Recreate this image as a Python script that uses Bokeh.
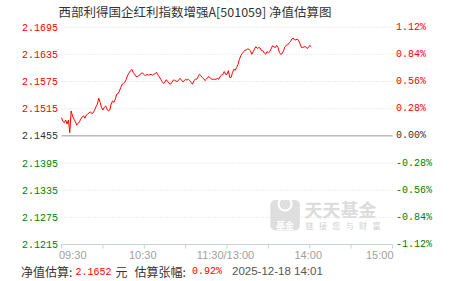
from bokeh.plotting import figure
from bokeh.models import Range1d
from bokeh.core.properties import value
from bokeh.embed import file_html
from bokeh.resources import INLINE

# ---------------- data ----------------
TITLE = "西部利得国企红利指数增强A[501059] 净值估算图"
BASE_NAV = 2.1455
NAV_TICKS = [2.1695, 2.1635, 2.1575, 2.1515, 2.1455, 2.1395, 2.1335, 2.1275, 2.1215]
NAV_LABELS = ["2.1695", "2.1635", "2.1575", "2.1515", "2.1455", "2.1395", "2.1335", "2.1275", "2.1215"]
PCT_LABELS = ["1.12%", "0.84%", "0.56%", "0.28%", "0.00%", "-0.28%", "-0.56%", "-0.84%", "-1.12%"]
TIME_TICKS = ["09:30", "10:00", "10:30", "11:00", "11:30", "13:30", "14:00", "14:30", "15:00"]
TIME_LABELS = ["09:30", "10:30", "11:30/13:00", "14:00", "15:00"]
TIME_LABEL_AT = ["09:30", "10:30", "11:30", "14:00", "15:00"]

# estimated NAV, one point per minute, 09:30 .. 11:30
MORNING_NAV = [
    2.1495, 2.1487, 2.1484, 2.1490, 2.1481, 2.1490, 2.1462, 2.1510, 2.1499, 2.1492,
    2.1487, 2.1479, 2.1482, 2.1486, 2.1492, 2.1497, 2.1499, 2.1494, 2.1501, 2.1503,
    2.1506, 2.1508, 2.1504, 2.1506, 2.1512, 2.1519, 2.1525, 2.1538, 2.1529, 2.1518,
    2.1512, 2.1518, 2.1521, 2.1514, 2.1510, 2.1512, 2.1525, 2.1532, 2.1529, 2.1536,
    2.1547, 2.1548, 2.1554, 2.1562, 2.1569, 2.1571, 2.1574, 2.1580, 2.1589, 2.1594,
    2.1599, 2.1602, 2.1595, 2.1591, 2.1586, 2.1586, 2.1588, 2.1590, 2.1594, 2.1593,
    2.1590, 2.1588, 2.1591, 2.1589, 2.1590, 2.1591, 2.1589, 2.1591, 2.1593, 2.1595,
    2.1589, 2.1585, 2.1580, 2.1575, 2.1571, 2.1574, 2.1579, 2.1575, 2.1571, 2.1569,
    2.1573, 2.1578, 2.1578, 2.1576, 2.1575, 2.1579, 2.1582, 2.1578, 2.1574, 2.1577,
    2.1580, 2.1578, 2.1580, 2.1577, 2.1573, 2.1569, 2.1577, 2.1580, 2.1580, 2.1585,
    2.1591, 2.1588, 2.1584, 2.1582, 2.1577, 2.1580, 2.1584, 2.1586, 2.1582, 2.1580,
    2.1580, 2.1580, 2.1580, 2.1582, 2.1580, 2.1586, 2.1589, 2.1591, 2.1597, 2.1591,
    2.1591,
]
# estimated NAV, one point per minute, 13:01 .. 14:01
AFTERNOON_NAV = [
    2.1599, 2.1584, 2.1584, 2.1595, 2.1602, 2.1600, 2.1606, 2.1613, 2.1624, 2.1632,
    2.1637, 2.1641, 2.1644, 2.1645, 2.1647, 2.1646, 2.1643, 2.1635, 2.1641, 2.1647,
    2.1652, 2.1648, 2.1650, 2.1649, 2.1643, 2.1643, 2.1638, 2.1635, 2.1641, 2.1639,
    2.1641, 2.1647, 2.1654, 2.1652, 2.1650, 2.1655, 2.1650, 2.1639, 2.1635, 2.1637,
    2.1643, 2.1652, 2.1655, 2.1656, 2.1660, 2.1663, 2.1669, 2.1671, 2.1667, 2.1667,
    2.1669, 2.1665, 2.1658, 2.1650, 2.1650, 2.1652, 2.1652, 2.1648, 2.1650, 2.1655,
    2.1652,
]
LAST_NAV = "2.1652"
LAST_PCT = "0.92%"
STAMP = "2025-12-18 14:01"


def hhmm(total):
    return "%02d:%02d" % (total // 60, total % 60)


times = [hhmm(9 * 60 + 30 + i) for i in range(len(MORNING_NAV))] + \
        [hhmm(13 * 60 + 1 + i) for i in range(len(AFTERNOON_NAV))]
nav = MORNING_NAV + AFTERNOON_NAV


def trade_minute(t):
    h, m = map(int, t.split(":"))
    mins = h * 60 + m
    if mins <= 11 * 60 + 30:
        return mins - (9 * 60 + 30)
    return 120 + mins - 13 * 60


xs = [trade_minute(t) for t in times]

# ---------------- layout (pixels) ----------------
W, H = 451, 281
PL, PR, PT, PB = 61.0, 392.0, 26.7, 244.0
ppm = (PR - PL) / 240.0
ppu = (PB - PT) / (NAV_TICKS[0] - NAV_TICKS[-1])

x_range = Range1d(-PL / ppm, 240 + (W - PR) / ppm)
y_range = Range1d(NAV_TICKS[-1] - (H - PB) / ppu, NAV_TICKS[0] + PT / ppu)

p = figure(width=W, height=H, x_range=x_range, y_range=y_range,
           x_axis_location=None, y_axis_location=None,
           toolbar_location=None, output_backend="svg", min_border=0)
p.outline_line_color = None
p.grid.visible = False
p.background_fill_color = "white"
p.border_fill_color = "white"
p.extra_x_ranges = {"px": Range1d(0, W)}
p.extra_y_ranges = {"px": Range1d(H, 0)}

# grid lines
grid_vals = [v for v in NAV_TICKS if v != BASE_NAV and v != NAV_TICKS[-1]]
p.segment(x0=0, x1=240, y0=grid_vals, y1=grid_vals, line_color="#d9d9d9",
          line_width=1, line_dash="1 2")
# zero (base) line
p.segment(x0=[0], x1=[240], y0=[BASE_NAV], y1=[BASE_NAV], line_color="#999999", line_width=1)
# x axis line + ticks
p.segment(x0=[0], x1=[240], y0=[NAV_TICKS[-1]], y1=[NAV_TICKS[-1]], line_color="#c5d2df", line_width=1)
tick_x = [trade_minute(t) for t in TIME_TICKS]
p.segment(x0=tick_x, x1=tick_x, y0=[PB] * len(tick_x), y1=[PB + 4] * len(tick_x),
          y_range_name="px", line_color="#c5d2df", line_width=1)

# watermark
p.rect(x=[284.6], y=[214.8], width=[29.5], height=[30.5], x_range_name="px", y_range_name="px",
       fill_color="#dedede", line_color=None, border_radius=5)
p.scatter(x=[284.6], y=[203.5], size=13, marker="circle", x_range_name="px", y_range_name="px",
          fill_color=None, line_color="white", line_width=2)
p.text(x=[284.6], y=[224.5], text=["基金"], x_range_name="px", y_range_name="px",
       text_font=value("Noto Sans CJK SC"), text_font_size="9px", text_font_style="bold",
       text_color="white", text_align="center", text_baseline="middle")
p.text(x=[304], y=[208.5], text=["天天基金"], x_range_name="px", y_range_name="px",
       text_font=value("Noto Sans CJK SC"), text_font_size="18px", text_font_style="bold",
       text_color="#dcdcdc", text_align="left", text_baseline="middle")
slogan = list("链接您与财富")
p.text(x=[309 + 13.4 * i for i in range(len(slogan))], y=[224.5] * len(slogan), text=slogan,
       x_range_name="px", y_range_name="px",
       text_font=value("Noto Sans CJK SC"), text_font_size="8px",
       text_color="#d0d0d0", text_align="center", text_baseline="middle")

# NAV line
p.line(x=xs, y=nav, line_color="#ff0000", line_width=1)

# y tick labels
def tick_color(v):
    if abs(v - BASE_NAV) < 1e-9:
        return "#333333"
    return "#ff0000" if v > BASE_NAV else "#008000"


colors = [tick_color(v) for v in NAV_TICKS]
p.text(x=[57.5] * len(NAV_TICKS), y=NAV_TICKS, text=NAV_LABELS, x_range_name="px",
       text_font=value("Liberation Mono"), text_font_size="10px", text_color=colors,
       text_align="right", text_baseline="middle")
p.text(x=[395.5] * len(NAV_TICKS), y=NAV_TICKS, text=PCT_LABELS, x_range_name="px",
       text_font=value("Liberation Mono"), text_font_size="10px", text_color=colors,
       text_align="left", text_baseline="middle")

# x tick labels
lab_x = [trade_minute(t) for t in TIME_LABEL_AT]
common = dict(y_range_name="px", text_font=value("Liberation Sans"), text_font_size="11px",
              text_color="#a0a0a0", text_baseline="middle")
p.text(x=lab_x[:1], y=[254.8], text=TIME_LABELS[:1], text_align="left", x_offset=-2.5, **common)
p.text(x=lab_x[1:-1], y=[254.8] * 3, text=TIME_LABELS[1:-1], text_align="center", x_offset=-1.5, **common)
p.text(x=lab_x[-1:], y=[254.8], text=TIME_LABELS[-1:], text_align="right", x_offset=1, **common)

# title
p.text(x=[58], y=[11], text=[TITLE], x_range_name="px", y_range_name="px",
       text_font=value("Noto Sans CJK SC"), text_font_size="12.5px", text_color="#333333",
       text_align="left", text_baseline="middle")

# footer
cjk = dict(x_range_name="px", y_range_name="px", text_font=value("Noto Sans CJK SC"),
           text_font_size="12px", text_color="#333333", text_align="left", text_baseline="middle")
mono = dict(x_range_name="px", y_range_name="px", text_font=value("Liberation Mono"),
            text_font_size="10px", text_color="#ff0000", text_align="left", text_baseline="middle")
FY = 270.5
p.text(x=[20.5], y=[FY], text=["净值估算:"], **cjk)
p.text(x=[75], y=[FY], text=[LAST_NAV], **mono)
p.text(x=[115], y=[FY], text=["元"], **cjk)
p.text(x=[134], y=[FY], text=["估算张幅:"], **cjk)
p.text(x=[191.5], y=[FY], text=[LAST_PCT], **mono)
p.text(x=[231.5], y=[FY], text=[STAMP], x_range_name="px", y_range_name="px",
       text_font=value("Liberation Sans"), text_font_size="11.5px", text_color="#555555",
       text_align="left", text_baseline="middle")

open("out.html", "w").write(file_html(p, INLINE))
